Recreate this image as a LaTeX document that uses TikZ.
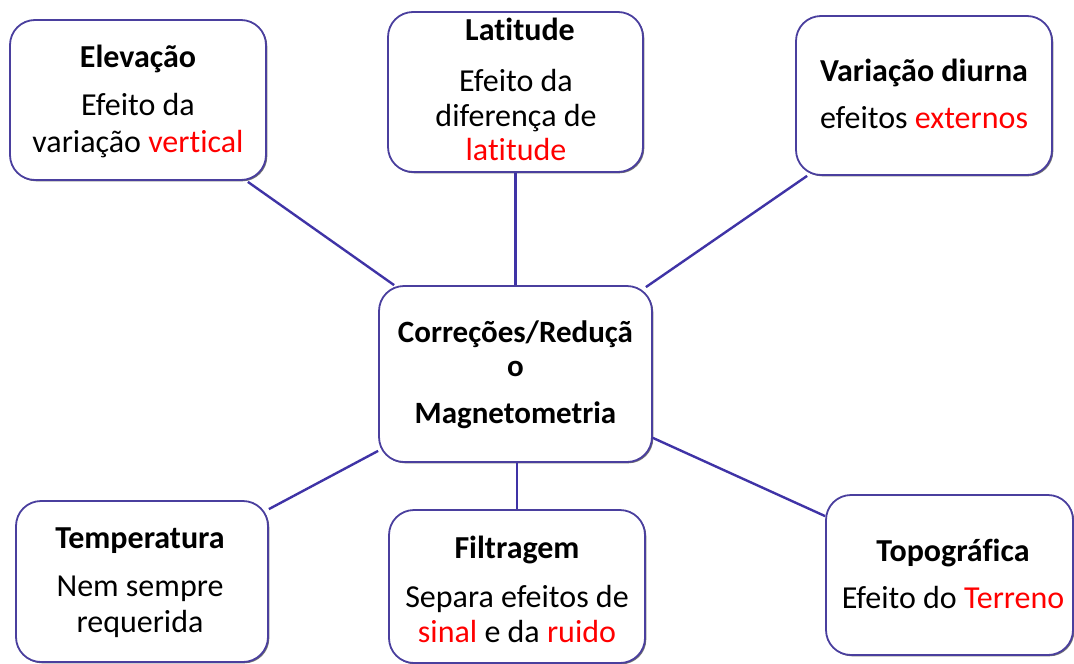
\documentclass[tikz,border=0pt]{standalone}
\usepackage{fontspec}
\setmainfont[Ligatures={NoCommon}]{Carlito}
\usetikzlibrary{calc,shadows}
\definecolor{boxline}{HTML}{4A3F9E}
\definecolor{linkline}{HTML}{3F33A6}
\definecolor{redtxt}{HTML}{FF0000}
\tikzset{
  box/.style={draw=boxline, line width=1.8pt, rounded corners=25pt, fill=white, inner sep=0pt,
    general shadow={shadow xshift=1.3pt, shadow yshift=-1.3pt, fill=black!55}},
  ttl/.style={anchor=base, inner sep=0pt, font=\fontsize{32}{38}\selectfont\bfseries},
  ctl/.style={anchor=base, inner sep=0pt, font=\fontsize{31}{37}\selectfont\bfseries},
  txt/.style={anchor=base, inner sep=0pt, font=\fontsize{32}{38}\selectfont},
  link/.style={draw=linkline, line width=2.4pt}
}
\newcommand{\rd}[1]{\textcolor{redtxt}{#1}}
\begin{document}
\begin{tikzpicture}[x=1pt,y=-1pt]
\useasboundingbox (0,0) rectangle (1074,664);
% boxes
\node[box, minimum width=256pt, minimum height=160pt] (elev) at (138,100) {};
\node[box, minimum width=255pt, minimum height=160pt] (lat) at (515.5,92) {};
\node[box, minimum width=256pt, minimum height=159pt] (var) at (924,95.5) {};
\node[box, minimum width=273pt, minimum height=176pt] (cent) at (515.5,374) {};
\node[box, minimum width=252pt, minimum height=161pt] (temp) at (142,581.5) {};
\node[box, minimum width=256pt, minimum height=153pt] (filt) at (517,586.5) {};
\node[box, minimum width=247pt, minimum height=160pt] (topo) at (949.5,575) {};
% connectors
\draw[link] ($(elev.south east)+(-19pt,-1pt)$) -- ($(cent.north west)+(16pt,0pt)$);
\draw[link] (lat.south) -- (cent.north);
\draw[link] ($(var.south west)+(12pt,0pt)$) -- ($(cent.north east)+(-7pt,-2pt)$);
\draw[link] ($(temp.north east)+(0pt,-9pt)$) -- ($(cent.south west)+(0pt,12pt)$);
\draw[link] (cent.south -| filt.north) -- (filt.north);
\draw[link] ($(cent.south east)+(0pt,25pt)$) -- ($(topo.north west)+(0pt,-22pt)$);
% texts
\node[ttl] (elevT) at (138,67) {Elevação};
\node[txt] (elevA) at (138,115) {Efeito da};
\node[txt] (elevB) at (138,152) {variação \rd{vertical}};
\node[ttl] (latT) at (520,40) {Latitude};
\node[txt] (latA) at (516,91) {Efeito da};
\node[txt] (latB) at (516,126) {diferença de};
\node[txt] (latC) at (516,160) {\rd{latitude}};
\node[ttl] (varT) at (924,81) {Variação diurna};
\node[txt] (varA) at (924,128) {efeitos \rd{externos}};
\node[ctl] (centA) at (515.5,342) {Correções/Reduçã};
\node[ctl] (centB) at (515.5,376) {o};
\node[ctl] (centC) at (515.5,423) {Magnetometria};
\node[ttl] (tempT) at (140,548) {Temperatura};
\node[txt] (tempA) at (140,596) {Nem sempre};
\node[txt] (tempB) at (140,632) {requerida};
\node[ttl] (filtT) at (517,558) {Filtragem};
\node[txt] (filtA) at (517,607) {Separa efeitos de};
\node[txt] (filtB) at (517,642) {\rd{sinal} e da \rd{ruido}};
\node[ttl] (topoT) at (953,561) {Topográfica};
\node[txt] (topoA) at (953,608) {Efeito do \rd{Terreno}};
\end{tikzpicture}
\end{document}
